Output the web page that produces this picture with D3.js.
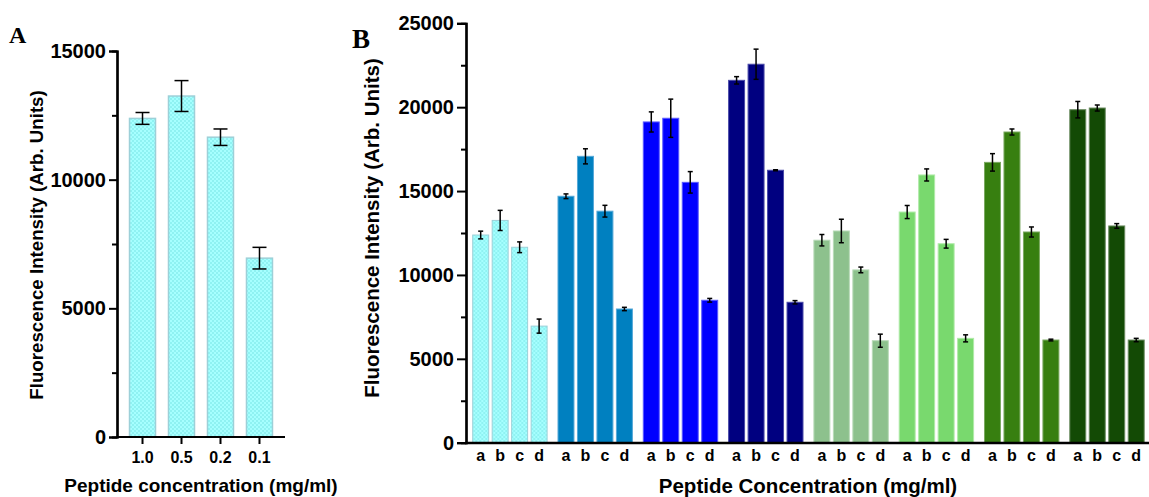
<!DOCTYPE html>
<html>
<head>
<meta charset="utf-8">
<script src="https://cdn.jsdelivr.net/npm/d3@7"></script>
<style>
  html, body { margin: 0; padding: 0; background: #fff; }
  svg { display: block; }
  text { font-family: "Liberation Sans", Arial, sans-serif; font-weight: bold; fill: #000; }
  .panel-label { font-family: "Liberation Serif", "Times New Roman", serif; font-weight: bold; }
</style>
</head>
<body>
<svg id="chart" width="1149" height="497"></svg>
<script>
// Panel A: single peptide, four concentrations
const concA = ["1.0", "0.5", "0.2", "0.1"];
const meanA = [12380, 13250, 11650, 6950];
const errA  = [230, 600, 320, 420];
const ticksA = [0, 5000, 10000, 15000];

// Panel B: eight peptide groups, each at concentrations a–d
const subLabels = ["a", "b", "c", "d"];
const groupIds = ["g1", "g2", "g3", "g4", "g5", "g6", "g7", "g8"];
const meansB = [
  [12380, 13250, 11650, 6950],
  [14690, 17070, 13800, 7970],
  [19120, 19340, 15520, 8490],
  [21600, 22560, 16240, 8370],
  [12070, 12620, 10300, 6080],
  [13750, 15960, 11860, 6220],
  [16710, 18520, 12560, 6120],
  [19850, 19950, 12920, 6120]
];
const errsB = [
  [230, 600, 320, 420],
  [140, 450, 350, 100],
  [600, 1140, 640, 110],
  [220, 900, 30, 100],
  [340, 700, 170, 390],
  [390, 360, 260, 210],
  [520, 180, 300, 50],
  [490, 180, 140, 100]
];
const ticksB = [0, 5000, 10000, 15000, 20000, 25000];

const groupColors = ["url(#cyanCheck)", "#0080c0", "#0000ff", "#000080",
                     "#8dc18d", "#79d96e", "#377f10", "#134a05"];
const groupStrokes = ["#9dd0d8", "#55a8d8", "#5a5aff", "#4a4aa8",
                      "#b8dab8", "#b0eaa8", "#7aa860", "#6a8a60"];

const svg = d3.select("#chart");

// checkered cyan fill
const defs = svg.append("defs");
const pat = defs.append("pattern").attr("id", "cyanCheck")
  .attr("width", 4).attr("height", 4).attr("patternUnits", "userSpaceOnUse");
pat.append("rect").attr("width", 4).attr("height", 4).attr("fill", "#a6ffff");
pat.append("rect").attr("width", 2).attr("height", 2).attr("fill", "#8ff2f2");
pat.append("rect").attr("x", 2).attr("y", 2).attr("width", 2).attr("height", 2).attr("fill", "#8ff2f2");

// ---------- Panel A ----------
const yA = d3.scaleLinear().domain([0, 15000]).range([437, 51]);
const xA = d3.scaleBand().domain(concA).range([123, 279]).paddingInner(0.333).paddingOuter(0.167);
const gA = svg.append("g");

gA.selectAll("rect.bar").data(concA).join("rect")
  .attr("class", "bar")
  .attr("x", d => xA(d))
  .attr("y", (d, i) => yA(meanA[i]))
  .attr("width", xA.bandwidth())
  .attr("height", (d, i) => yA(0) - yA(meanA[i]))
  .attr("fill", "url(#cyanCheck)")
  .attr("stroke", "#9dd0d8").attr("stroke-width", 1.5);

const errA_g = gA.selectAll("g.err").data(concA).join("g").attr("class", "err")
  .attr("stroke", "#000").attr("stroke-width", 1.5);
errA_g.append("line")
  .attr("x1", d => xA(d) + xA.bandwidth() / 2).attr("x2", d => xA(d) + xA.bandwidth() / 2)
  .attr("y1", (d, i) => yA(meanA[i] + errA[i])).attr("y2", (d, i) => yA(meanA[i] - errA[i]));
[1, -1].forEach(s => {
  errA_g.append("line")
    .attr("x1", d => xA(d) + xA.bandwidth() / 2 - 7).attr("x2", d => xA(d) + xA.bandwidth() / 2 + 7)
    .attr("y1", (d, i) => yA(meanA[i] + s * errA[i])).attr("y2", (d, i) => yA(meanA[i] + s * errA[i]));
});

// y axis A with minor ticks
const yAxisA = gA.append("g").attr("transform", "translate(117,0)");
yAxisA.call(d3.axisLeft(yA).tickValues(d3.range(2500, 15000, 5000)).tickSize(5).tickFormat(""));
yAxisA.append("g").call(d3.axisLeft(yA).tickValues(ticksA).tickSize(8).tickPadding(3).tickFormat(d3.format("d")));
yAxisA.selectAll("path.domain").attr("stroke-width", 2.2);
yAxisA.selectAll(".tick line").attr("stroke-width", 2);
yAxisA.selectAll(".tick text").style("font-size", "20px").style("font-family", "Liberation Sans, Arial, sans-serif").style("font-weight", "bold");

// x axis A
const xAxisA = gA.append("g").attr("transform", "translate(0,437)");
xAxisA.append("line").attr("x1", 116).attr("x2", 285).attr("stroke", "#000").attr("stroke-width", 2.2);
xAxisA.selectAll("line.tk").data(concA).join("line").attr("class", "tk")
  .attr("x1", d => xA(d) + xA.bandwidth() / 2).attr("x2", d => xA(d) + xA.bandwidth() / 2)
  .attr("y1", 0).attr("y2", 7).attr("stroke", "#000").attr("stroke-width", 2);
xAxisA.selectAll("text").data(concA).join("text")
  .attr("x", d => xA(d) + xA.bandwidth() / 2).attr("y", 26)
  .attr("text-anchor", "middle").style("font-size", "16px").text(d => d);

svg.append("text").attr("transform", "translate(43,245) rotate(-90)")
  .attr("text-anchor", "middle").style("font-size", "18.7px")
  .text("Fluorescence Intensity (Arb. Units)");
svg.append("text").attr("x", 201).attr("y", 492).attr("text-anchor", "middle")
  .style("font-size", "19px").text("Peptide concentration (mg/ml)");
svg.append("text").attr("class", "panel-label").attr("x", 9).attr("y", 43)
  .style("font-size", "24px").text("A");

// ---------- Panel B ----------
const yB = d3.scaleLinear().domain([0, 25000]).range([442.7, 23.3]);
const xG = d3.scaleBand().domain(groupIds).range([467.3, 1149.7]);
const xS = d3.scaleBand().domain(subLabels).range([5.4, 79.8]).paddingInner(0.18);
const gB = svg.append("g");

const groups = gB.selectAll("g.grp").data(groupIds).join("g").attr("class", "grp")
  .attr("transform", d => `translate(${xG(d)},0)`);

groups.each(function (gid, gi) {
  const g = d3.select(this);
  g.selectAll("rect").data(subLabels).join("rect")
    .attr("x", d => xS(d))
    .attr("y", (d, j) => yB(meansB[gi][j]))
    .attr("width", xS.bandwidth())
    .attr("height", (d, j) => yB(0) - yB(meansB[gi][j]))
    .attr("fill", groupColors[gi])
    .attr("stroke", groupStrokes[gi]).attr("stroke-width", 1);
  const e = g.selectAll("g.err").data(subLabels).join("g").attr("class", "err")
    .attr("stroke", "#000").attr("stroke-width", 1.5);
  const cx = d => xS(d) + xS.bandwidth() / 2;
  e.append("line").attr("x1", cx).attr("x2", cx)
    .attr("y1", (d, j) => yB(meansB[gi][j] + errsB[gi][j]))
    .attr("y2", (d, j) => yB(meansB[gi][j] - errsB[gi][j]));
  [1, -1].forEach(s => {
    e.append("line").attr("x1", d => cx(d) - 2.5).attr("x2", d => cx(d) + 2.5)
      .attr("y1", (d, j) => yB(meansB[gi][j] + s * errsB[gi][j]))
      .attr("y2", (d, j) => yB(meansB[gi][j] + s * errsB[gi][j]));
  });
  g.selectAll("text").data(subLabels).join("text")
    .attr("x", cx).attr("y", 461).attr("text-anchor", "middle")
    .style("font-size", "16px").text(d => d);
});

// y axis B with minor ticks
const yAxisB = gB.append("g").attr("transform", "translate(466,0)");
yAxisB.call(d3.axisLeft(yB).tickValues(d3.range(2500, 25000, 5000)).tickSize(5).tickFormat(""));
yAxisB.append("g").call(d3.axisLeft(yB).tickValues(ticksB).tickSize(9).tickPadding(3).tickFormat(d3.format("d")));
yAxisB.selectAll("path.domain").attr("stroke-width", 2.2);
yAxisB.selectAll(".tick line").attr("stroke-width", 2);
yAxisB.selectAll(".tick text").style("font-size", "20px").style("font-family", "Liberation Sans, Arial, sans-serif").style("font-weight", "bold");

// x axis B baseline
gB.append("line").attr("x1", 465).attr("x2", 1149).attr("y1", 443).attr("y2", 443)
  .attr("stroke", "#000").attr("stroke-width", 2.6);

svg.append("text").attr("transform", "translate(379,228) rotate(-90)")
  .attr("text-anchor", "middle").style("font-size", "20.5px")
  .text("Fluorescence Intensity (Arb. Units)");
svg.append("text").attr("x", 808).attr("y", 493).attr("text-anchor", "middle")
  .style("font-size", "20.5px").text("Peptide Concentration (mg/ml)");
svg.append("text").attr("class", "panel-label").attr("x", 352).attr("y", 48)
  .style("font-size", "27px").text("B");
</script>
</body>
</html>
